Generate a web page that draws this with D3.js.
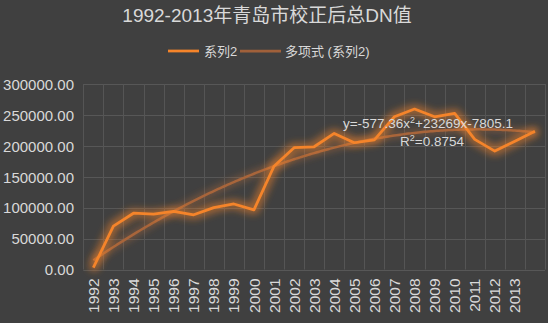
<!DOCTYPE html>
<html><head><meta charset="utf-8">
<script src="https://cdn.jsdelivr.net/npm/d3@7"></script>
<style>
html,body{margin:0;padding:0;background:#404040;}
svg{display:block;}
text{font-family:"Liberation Sans",Arial,"Noto Sans CJK SC",sans-serif;fill:#d9d9d9;}
</style></head>
<body>
<svg id="c" width="548" height="323"></svg>
<script>
const title = "1992-2013年青岛市校正后总DN值";
const categories = ["1992","1993","1994","1995","1996","1997","1998","1999","2000","2001","2002","2003","2004","2005","2006","2007","2008","2009","2010","2011","2012","2013",""];
const seriesValues = [3000,70000,91000,89500,94000,88500,100000,106000,96500,167000,197000,198500,220000,205000,209500,247000,259500,247000,252500,210500,191500,207500,223500];
const seriesName = "系列2";
const trendName = "多项式 (系列2)";
const trendCoef = [-7805.1, 23269, -577.36]; // c0 + c1*x + c2*x^2, x = 1..n
const equationText = ["y=-577.36x", "2", "+23269x-7805.1"];
const r2Text = ["R", "2", "=0.8754"];
const yTicks = [0,50000,100000,150000,200000,250000,300000];

const svg = d3.select("#c");
const W = 548, H = 323;
const m = {left:83.3, right:3, top:84, bottom:53.5};
const x = d3.scaleBand().domain(d3.range(categories.length)).range([m.left, W - m.right]).paddingInner(0).paddingOuter(0);
const y = d3.scaleLinear().domain([0,300000]).range([H - m.bottom, m.top]);

const defs = svg.append("defs");
function glow(id, color, op, r, sd){
  const f = defs.append("filter").attr("id", id).attr("filterUnits","userSpaceOnUse")
    .attr("x",0).attr("y",0).attr("width",W).attr("height",H);
  f.append("feMorphology").attr("operator","dilate").attr("radius",r).attr("in","SourceAlpha").attr("result","d");
  f.append("feGaussianBlur").attr("in","d").attr("stdDeviation",sd).attr("result","b");
  f.append("feFlood").attr("flood-color",color).attr("flood-opacity",op).attr("result","fl");
  f.append("feComposite").attr("in","fl").attr("in2","b").attr("operator","in").attr("result","g");
  const mg = f.append("feMerge");
  mg.append("feMergeNode").attr("in","g");
  mg.append("feMergeNode").attr("in","SourceGraphic");
}
glow("glowS", "#f5842a", 0.5, 2.5, 3.5);
glow("glowT", "#c0703a", 0.35, 1.5, 3);

svg.append("rect").attr("width",W).attr("height",H).attr("fill","#404040");

// Title
svg.append("text").attr("x", 267).attr("y", 22).attr("text-anchor","middle")
  .style("font-size","19px").text(title);

// Gridlines
const grid = svg.append("g");
grid.selectAll("line.h").data(yTicks).join("line")
  .attr("x1", m.left).attr("x2", W - m.right)
  .attr("y1", d => Math.round(y(d)) + 0.5).attr("y2", d => Math.round(y(d)) + 0.5)
  .attr("stroke", "#575757").attr("stroke-width", 1);
const bounds = d3.range(categories.length + 1).map(i => i < categories.length ? x(i) : x(categories.length - 1) + x.bandwidth());
grid.selectAll("line.v").data(bounds).join("line")
  .attr("x1", d => Math.round(d) + 0.5).attr("x2", d => Math.round(d) + 0.5)
  .attr("y1", m.top).attr("y2", H - m.bottom)
  .attr("stroke", "#555555").attr("stroke-width", 1);

// Y axis
const yAxis = d3.axisLeft(y).tickValues(yTicks).tickSize(0).tickPadding(0).tickFormat(d3.format(".2f"));
const gy = svg.append("g").attr("transform", `translate(74,0)`).call(yAxis);
gy.select(".domain").remove();
gy.selectAll("text").style("font-size","15px").attr("fill","#d9d9d9").attr("dy","0.35em")
  .style("font-family",'"Liberation Sans",Arial,sans-serif');

// X axis
const xAxis = d3.axisBottom(x).tickSize(0).tickFormat(i => categories[i]);
const gx = svg.append("g").attr("transform", `translate(0,${H - m.bottom})`).call(xAxis);
gx.select(".domain").remove();
gx.selectAll("text").style("font-size","15.5px").attr("fill","#d9d9d9")
  .style("font-family",'"Liberation Sans",Arial,sans-serif')
  .attr("text-anchor","end").attr("transform","rotate(-90)")
  .attr("x", -9).attr("y", 0).attr("dy","0.36em");

const cx = i => x(i) + x.bandwidth()/2;

// Trendline
const n = seriesValues.length;
const trendPts = d3.range(0, n - 1 + 0.001, 0.1).map(t => {
  const xv = t + 1;
  return [t, trendCoef[0] + trendCoef[1]*xv + trendCoef[2]*xv*xv];
});
const tx = d3.scaleLinear().domain([0, n-1]).range([cx(0), cx(n-1)]);
svg.append("path").datum(trendPts)
  .attr("d", d3.line().x(d => tx(d[0])).y(d => y(d[1])).curve(d3.curveLinear))
  .attr("fill","none").attr("stroke","#a8653a").attr("stroke-width",2.5)
  .attr("filter","url(#glowT)");

// Series
svg.append("path").datum(seriesValues)
  .attr("d", d3.line().x((d,i) => cx(i)).y(d => y(d)))
  .attr("fill","none").attr("stroke","#f5842a").attr("stroke-width",2.75)
  .attr("stroke-linejoin","round").attr("filter","url(#glowS)");

// Equation
const eq = svg.append("text").attr("x", 428).attr("y", 128).attr("text-anchor","middle").style("font-size","13.5px");
eq.append("tspan").text(equationText[0]);
eq.append("tspan").attr("dy",-5).style("font-size","9px").text(equationText[1]);
eq.append("tspan").attr("dy",5).text(equationText[2]);
const r2 = svg.append("text").attr("x", 432).attr("y", 146).attr("text-anchor","middle").style("font-size","13.5px");
r2.append("tspan").text(r2Text[0]);
r2.append("tspan").attr("dy",-5).style("font-size","9px").text(r2Text[1]);
r2.append("tspan").attr("dy",5).text(r2Text[2]);

// Legend
const lg = svg.append("g");
lg.append("line").attr("x1",168).attr("x2",199).attr("y1",51).attr("y2",51).attr("stroke","#f5842a").attr("stroke-width",2.75);
lg.append("text").attr("x",204).attr("y",56).style("font-size","13px").text(seriesName);
lg.append("line").attr("x1",240).attr("x2",281).attr("y1",51).attr("y2",51).attr("stroke","#a0603a").attr("stroke-width",2.75);
lg.append("text").attr("x",285).attr("y",56).style("font-size","13px").text(trendName);
</script>
</body></html>
